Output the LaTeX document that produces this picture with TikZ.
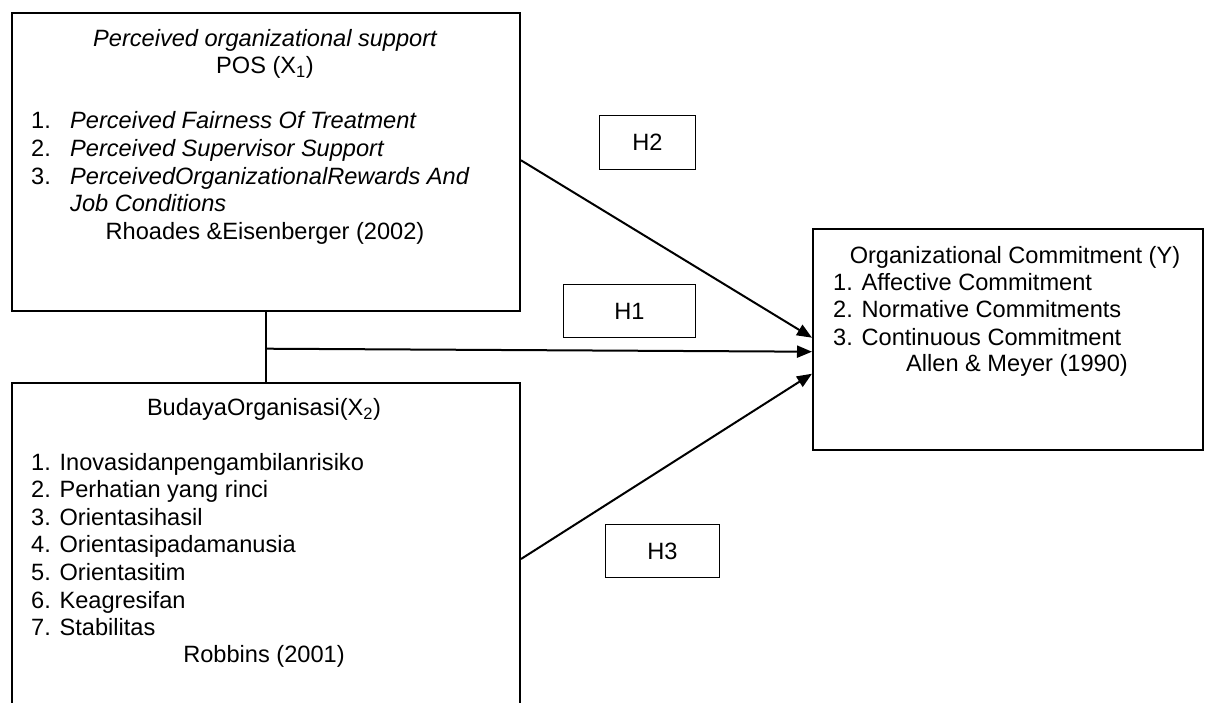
\documentclass[tikz,border=0pt]{standalone}
\usepackage{fontspec}
\setmainfont{Liberation Sans}
\usetikzlibrary{arrows.meta}
\newcommand\txtfont{\fontsize{23.6pt}{27.6pt}\selectfont}
\begin{document}
\begin{tikzpicture}[x=1pt,y=-1pt,
  box/.style={draw, line width=2pt, inner sep=0pt, anchor=north west},
  hbox/.style={draw, line width=1pt, inner sep=0pt, anchor=north west, font=\txtfont},
  txt/.style={inner sep=0pt, font=\txtfont},
  arr/.style={line width=2pt, -{Triangle[length=15pt,width=12pt]}},
  link/.style={line width=2pt}]
\useasboundingbox (0,0) rectangle (1205,702);
\fill[white] (0,0) rectangle (1205,702);
\clip (0,0) rectangle (1205,702);

% boxes
\node[box, minimum width=508.2pt, minimum height=298pt] (x1) at (10.8,12) {};
\node[box, minimum width=508.2pt, minimum height=360pt] (x2) at (10.8,382) {};
\node[box, minimum width=390pt, minimum height=221pt] (y) at (812,228) {};
\node[hbox, minimum width=96pt, minimum height=54pt] (h2) at (599,115) {H2};
\node[hbox, minimum width=132pt, minimum height=53pt] (h1) at (563,284) {H1};
\node[hbox, minimum width=114pt, minimum height=53pt] (h3) at (605,524) {H3};

% X1 text
\node[txt, anchor=base] (x1a) at (265,46) {\itshape Perceived organizational support};
\node[txt, anchor=base] (x1b) at (265,73.6) {POS (X\textsubscript{1})};
\node[txt, anchor=base west] (x1c) at (31,128.8) {\makebox[39pt][l]{1.}\itshape Perceived Fairness Of Treatment};
\node[txt, anchor=base west] (x1d) at (31,156.4) {\makebox[39pt][l]{2.}\itshape Perceived Supervisor Support};
\node[txt, anchor=base west] (x1e) at (31,184) {\makebox[39pt][l]{3.}\itshape PerceivedOrganizationalRewards And};
\node[txt, anchor=base west] (x1f) at (70,211.6) {\itshape Job Conditions};
\node[txt, anchor=base] (x1g) at (265,239.2) {Rhoades \&Eisenberger (2002)};

% X2 text
\node[txt, anchor=base] (x2a) at (264,415.7) {BudayaOrganisasi(X\textsubscript{2})};
\node[txt, anchor=base west] (x2b) at (31,470) {1. Inovasidanpengambilanrisiko};
\node[txt, anchor=base west] (x2c) at (31,497.6) {2. Perhatian yang rinci};
\node[txt, anchor=base west] (x2d) at (31,525.2) {3. Orientasihasil};
\node[txt, anchor=base west] (x2e) at (31,552.8) {4. Orientasipadamanusia};
\node[txt, anchor=base west] (x2f) at (31,580.4) {5. Orientasitim};
\node[txt, anchor=base west] (x2g) at (31,608) {6. Keagresifan};
\node[txt, anchor=base west] (x2h) at (31,635.6) {7. Stabilitas};
\node[txt, anchor=base] (x2i) at (264,662.5) {Robbins (2001)};

% Y text
\node[txt, anchor=base] (ya) at (1015,263.3) {Organizational Commitment (Y)};
\node[txt, anchor=base west] (yb) at (833,290) {1. Affective Commitment};
\node[txt, anchor=base west] (yc) at (833,317.7) {2. Normative Commitments};
\node[txt, anchor=base west] (yd) at (833,345) {3. Continuous Commitment};
\node[txt, anchor=base] (ye) at (1017,371.7) {Allen \& Meyer (1990)};

% connectors
\coordinate (hy) at (0,348.7);
\coordinate (j) at (x1.south |- hy);
\draw[link] (x1.south) -- (x2.north);
\draw[arr] (j) -- ([yshift=-12.2pt]y.west);
\draw[arr] ([yshift=1.7pt]x1.east) -- ([yshift=1.8pt]y.west);
\draw[arr] ([yshift=-177pt]x2.north east) -- ([yshift=-34.2pt]y.west);
\end{tikzpicture}
\end{document}
